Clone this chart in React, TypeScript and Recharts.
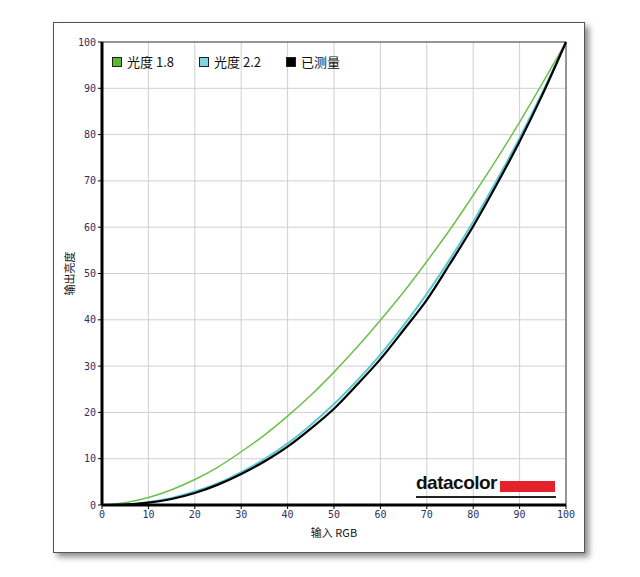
import { LineChart, Line, XAxis, YAxis, CartesianGrid, Legend, ReferenceLine } from 'recharts';

const inputs = [0, 5, 10, 15, 20, 25, 30, 35, 40, 45, 50, 55, 60, 65, 70, 75, 80, 85, 90, 95, 100];
const gamma18 = [0, 0.5, 1.6, 3.3, 5.5, 8.2, 11.5, 15.1, 19.2, 23.7, 28.7, 34.1, 39.9, 46.0, 52.6, 59.5, 66.9, 74.6, 82.7, 91.2, 100];
const gamma22 = [0, 0.1, 0.6, 1.5, 2.9, 4.7, 7.1, 9.9, 13.3, 17.3, 21.8, 26.9, 32.5, 38.8, 45.6, 53.1, 61.2, 70.0, 79.3, 89.3, 100];
const measured = [0, 0.1, 0.5, 1.3, 2.6, 4.4, 6.7, 9.4, 12.6, 16.5, 20.8, 26.0, 31.5, 37.8, 44.3, 52.1, 60.2, 69.1, 78.5, 88.8, 100];
const ticks = [0, 10, 20, 30, 40, 50, 60, 70, 80, 90, 100];

const data = inputs.map((x, i) => ({ x, g18: gamma18[i], g22: gamma22[i], meas: measured[i] }));

const tickStyle = { fontSize: 10, fill: '#2f2f63', fontFamily: 'DejaVu Sans Mono' };

function LegendBox({ payload }: any) {
  return (
    <div style={{ display: 'flex', fontSize: 13, fontFamily: '"Noto Sans CJK SC", sans-serif', color: '#111' }}>
      {payload.map((p: any) => (
        <div key={p.value} style={{ display: 'flex', alignItems: 'center', width: 87 }}>
          <span style={{ width: 8, height: 8, background: p.payload.legendFill, border: '1px solid #222', marginRight: 5 }} />
          <span>{p.value}</span>
        </div>
      ))}
    </div>
  );
}

export default function App() {
  return (
    <div style={{ position: 'absolute', left: 0, top: 0, width: 640, height: 577, background: '#fff' }}>
      <div style={{ position: 'absolute', left: 53, top: 22, width: 530, height: 529, border: '1px solid #555', boxShadow: '4px 4px 6px rgba(0,0,0,0.45)', background: '#fff' }} />
      <div style={{ position: 'absolute', left: 0, top: 0 }}>
        <LineChart width={640} height={577} data={data} margin={{ top: 42, right: 74, bottom: 42, left: 62 }}>
          <CartesianGrid stroke="#cfcfcf" strokeWidth={1} />
          <XAxis
            dataKey="x"
            type="number"
            domain={[0, 100]}
            ticks={ticks}
            height={30}
            tick={tickStyle}
            tickSize={4}
            axisLine={{ stroke: '#000', strokeWidth: 3 }}
            tickLine={{ stroke: '#000' }}
            label={{ value: '输入 RGB', position: 'insideBottom', offset: -2, style: { fontSize: 11, fill: '#111', fontFamily: '"Noto Sans CJK SC", sans-serif' } }}
          />
          <YAxis
            type="number"
            domain={[0, 100]}
            ticks={ticks}
            width={40}
            tick={tickStyle}
            tickSize={4}
            axisLine={{ stroke: '#000', strokeWidth: 3 }}
            tickLine={{ stroke: '#000' }}
            label={{ value: '输出亮度', angle: -90, position: 'insideLeft', offset: 8, style: { fontSize: 11, fill: '#111', fontFamily: '"Noto Sans CJK SC", sans-serif', textAnchor: 'middle' } }}
          />
          <ReferenceLine x={100} stroke="#444" strokeWidth={1} />
          <ReferenceLine y={100} stroke="#444" strokeWidth={1} />
          <Legend
            verticalAlign="middle"
            align="center"
            content={<LegendBox />}
            wrapperStyle={{ top: 52, left: 112, width: 300 }}
          />
          <Line name="光度 1.8" legendFill="#5cb82e" dataKey="g18" stroke="#6cc04a" strokeWidth={1.5} dot={false} type="monotone" isAnimationActive={false} />
          <Line name="光度 2.2" legendFill="#7fd6e0" dataKey="g22" stroke="#5cc8d2" strokeWidth={2} dot={false} type="monotone" isAnimationActive={false} />
          <Line name="已测量" legendFill="#000" dataKey="meas" stroke="#000" strokeWidth={2.2} dot={false} type="monotone" isAnimationActive={false} />
        </LineChart>
      </div>
      <div style={{ position: 'absolute', left: 416, top: 474, width: 140, height: 22, borderBottom: '2px solid #222' }}>
        <span style={{ position: 'absolute', left: 0, top: -2, fontFamily: 'Liberation Sans, sans-serif', fontWeight: 'bold', fontSize: 19, color: '#111', letterSpacing: -0.5 }}>datacolor</span>
        <span style={{ position: 'absolute', left: 84, top: 7, width: 55, height: 11, background: '#e3222c' }} />
      </div>
    </div>
  );
}
